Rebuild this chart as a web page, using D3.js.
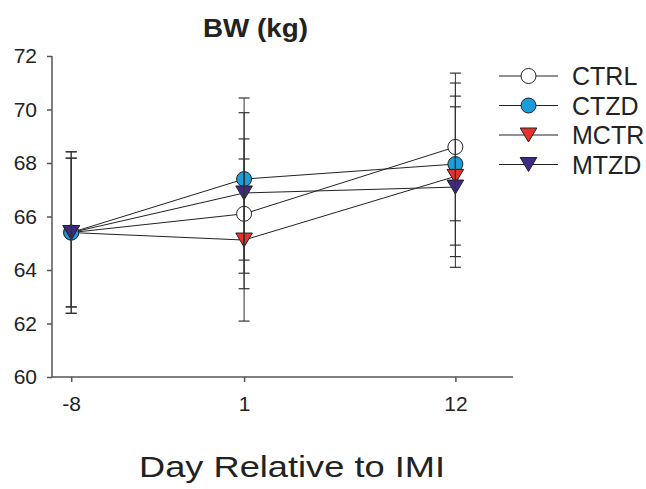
<!DOCTYPE html>
<html>
<head>
<meta charset="utf-8">
<script src="https://cdn.jsdelivr.net/npm/d3@7"></script>
<style>
  body { margin: 0; background: #fff; }
  text { font-family: "Liberation Sans", Arial, sans-serif; fill: #222; }
</style>
</head>
<body>
<script>
// data
const days = [-8, 1, 12];
const groups = ["CTRL", "CTZD", "MCTR", "MTZD"];
const ctrlMean = [65.4, 66.1, 68.6];
const ctrlErr = [2.78, 2.8, 2.76];
const ctzdMean = [65.4, 67.4, 67.96];
const ctzdErr = [3.02, 3.03, 3.03];
const mctrMean = [65.4, 65.12, 67.5];
const mctrErr = [3.02, 3.03, 3.0];
const mtzdMean = [65.4, 66.88, 67.1];
const mtzdErr = [2.78, 3.0, 3.0];
const yTicks = [60, 62, 64, 66, 68, 70, 72];

const width = 646, height = 489;

const series = [
  { name: groups[0], mean: ctrlMean, err: ctrlErr, shape: "circle", fill: "#ffffff" },
  { name: groups[1], mean: ctzdMean, err: ctzdErr, shape: "circle", fill: "#1a9dd9" },
  { name: groups[2], mean: mctrMean, err: mctrErr, shape: "tri", fill: "#e8312a" },
  { name: groups[3], mean: mtzdMean, err: mtzdErr, shape: "tri", fill: "#3e2a85" },
];

const x = d3.scaleLinear().domain([-9, 15]).range([52, 513]);
const y = d3.scaleLinear().domain([60, 72]).range([377, 56]);

const svg = d3.select("body").append("svg")
  .attr("width", width)
  .attr("height", height);

// axes
const yAxis = svg.append("g")
  .attr("transform", `translate(${x.range()[0]},0)`)
  .call(d3.axisLeft(y).tickValues(yTicks).tickSize(5).tickPadding(10));
const xAxis = svg.append("g")
  .attr("transform", `translate(0,${y.range()[0]})`)
  .call(d3.axisBottom(x).tickValues(days).tickSize(5).tickPadding(14)
    .tickFormat((d) => String(d)));

[xAxis, yAxis].forEach((a) => {
  a.select(".domain").attr("stroke", "#555").attr("stroke-width", 1.5);
  a.selectAll(".tick line").attr("stroke", "#555").attr("stroke-width", 1.5);
  a.selectAll("text")
    .attr("font-family", "Liberation Sans, Arial, sans-serif")
    .attr("font-size", 21)
    .attr("fill", "#222");
});
// plain domain lines, no outer ticks
yAxis.select(".domain").attr("d", `M0,${y.range()[1]}V${y.range()[0]}`);
xAxis.select(".domain").attr("d", `M${x.range()[0]},0H${x.range()[1]}`);

// connecting lines
const line = d3.line().x((d, i) => x(days[i])).y((d) => y(d));
series.forEach((s) => {
  svg.append("path")
    .datum(s.mean)
    .attr("d", line)
    .attr("fill", "none")
    .attr("stroke", "#222")
    .attr("stroke-width", 1);
});

// markers
const triPath = "M-8.3,-7L8.3,-7L0,7Z";
function drawMarker(g, s, cx, cy) {
  if (s.shape === "circle") {
    g.append("circle")
      .attr("cx", cx).attr("cy", cy).attr("r", 7.5)
      .attr("fill", s.fill).attr("stroke", "#222").attr("stroke-width", 1);
  } else {
    g.append("path")
      .attr("d", triPath)
      .attr("transform", `translate(${cx},${cy})`)
      .attr("fill", s.fill).attr("stroke", "#222").attr("stroke-width", 1);
  }
}

series.forEach((s) => {
  s.mean.forEach((m, i) => drawMarker(svg, s, x(days[i]), y(m)));
});

// error bars
series.forEach((s) => {
  s.mean.forEach((m, i) => {
    const cx = x(days[i]);
    const lo = y(m - s.err[i]), hi = y(m + s.err[i]);
    svg.append("line").attr("x1", cx).attr("x2", cx).attr("y1", lo).attr("y2", hi)
      .attr("stroke", "#333").attr("stroke-width", 1);
    [lo, hi].forEach((yy) => {
      svg.append("line").attr("x1", cx - 5.5).attr("x2", cx + 5.5).attr("y1", yy).attr("y2", yy)
        .attr("stroke", "#333").attr("stroke-width", 1.2);
    });
  });
});

// legend
const legend = svg.append("g").attr("transform", "translate(499,76)");
series.forEach((s, i) => {
  const row = legend.append("g").attr("transform", `translate(0,${i * 29.5})`);
  row.append("line").attr("x1", 0).attr("x2", 59).attr("y1", 0).attr("y2", 0)
    .attr("stroke", "#222").attr("stroke-width", 1);
  drawMarker(row, s, 29.5, 0);
  row.append("text")
    .attr("x", 73).attr("y", 0).attr("dy", "0.36em")
    .attr("font-size", 25)
    .text(s.name);
});

// title
svg.append("text")
  .attr("x", 255.5).attr("y", 37)
  .attr("text-anchor", "middle")
  .attr("font-size", 25)
  .attr("font-weight", "bold")
  .attr("textLength", 105)
  .attr("lengthAdjust", "spacingAndGlyphs")
  .text("BW (kg)");

// x axis title
svg.append("text")
  .attr("x", 292).attr("y", 477)
  .attr("text-anchor", "middle")
  .attr("font-size", 30)
  .attr("textLength", 306)
  .attr("lengthAdjust", "spacingAndGlyphs")
  .text("Day Relative to IMI");
</script>
</body>
</html>
